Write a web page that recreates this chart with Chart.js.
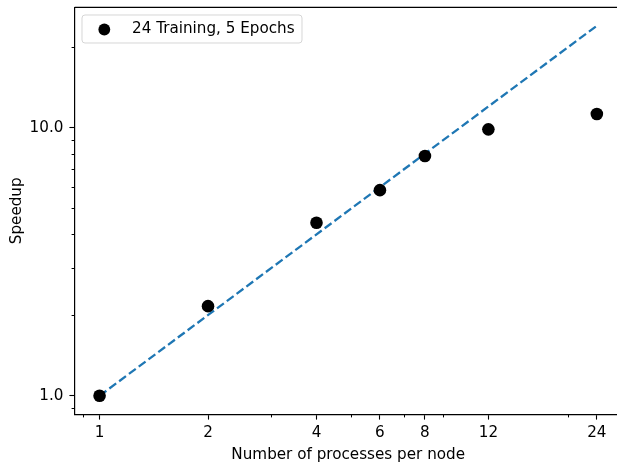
<!DOCTYPE html>
<html>
<head>
<meta charset="utf-8">
<script src="https://cdn.jsdelivr.net/npm/chart.js@4/dist/chart.umd.min.js"></script>
<style>
  html, body { margin: 0; padding: 0; background: #fff; overflow: hidden; }
  #wrap { width: 630px; height: 464px; }
</style>
</head>
<body>
<div id="wrap"><canvas id="c" width="630" height="464"></canvas></div>
<script>
// Measured speedup against number of processes per node
const procs   = [1, 2, 4, 6, 8, 12, 24];
const speedup = [1.0, 2.16, 4.42, 5.85, 7.84, 9.86, 11.25];
// Ideal (linear) speedup reference line
const idealX = [1, 24];
const idealY = [1, 24];
// Axis ticks
const xMajor = [1, 2, 4, 6, 8, 12, 24];
const xMinor = [0.9, 3, 5, 7, 9, 20];
const yMajor = [1, 10];
const yMinor = [0.9, 2, 3, 4, 5, 6, 7, 8, 9, 20];
const seriesLabel = '24 Training, 5 Epochs';

// Axis limits: data range in log space with a 5% margin each side
const lo = Math.log10(1), hi = Math.log10(24), m = 0.05 * (hi - lo);
const axMin = Math.pow(10, lo - m), axMax = Math.pow(10, hi + m);

const FONT = 'DejaVu Sans';
const FS = 15.2;
const MAJOR_LEN = 5.3;
const MINOR_LEN = 3.1;

// Fixed axis box sizes; no extra padding for overhanging labels
const fixAxis = (size) => (s) => {
  if (s.isHorizontal()) s.height = size; else s.width = size;
  s.paddingTop = s.paddingBottom = s.paddingLeft = s.paddingRight = 0;
};

const extras = {
  id: 'extras',
  afterDraw(chart) {
    const { ctx, chartArea: a, scales: { x, y } } = chart;
    ctx.save();
    ctx.strokeStyle = '#000';
    ctx.lineWidth = 1;
    ctx.beginPath();
    xMinor.forEach(v => {
      const px = Math.round(x.getPixelForValue(v)) + 0.5;
      if (px < a.left || px > a.right) return;
      ctx.moveTo(px, a.bottom); ctx.lineTo(px, a.bottom + MINOR_LEN);
    });
    yMinor.forEach(v => {
      const py = Math.round(y.getPixelForValue(v)) + 0.5;
      if (py < a.top || py > a.bottom) return;
      ctx.moveTo(a.left, py); ctx.lineTo(a.left - MINOR_LEN, py);
    });
    ctx.stroke();
    // top and right spines
    ctx.lineWidth = 1.2;
    ctx.beginPath();
    ctx.moveTo(a.left, a.top); ctx.lineTo(a.right, a.top); ctx.lineTo(a.right, a.bottom);
    ctx.stroke();

    // legend
    const lx = 82, ly = 15, lw = 220, lh = 28, r = 3;
    ctx.beginPath();
    ctx.moveTo(lx + r, ly);
    ctx.arcTo(lx + lw, ly, lx + lw, ly + lh, r);
    ctx.arcTo(lx + lw, ly + lh, lx, ly + lh, r);
    ctx.arcTo(lx, ly + lh, lx, ly, r);
    ctx.arcTo(lx, ly, lx + lw, ly, r);
    ctx.closePath();
    ctx.fillStyle = 'rgba(255,255,255,0.8)';
    ctx.fill();
    ctx.strokeStyle = 'rgba(204,204,204,0.8)';
    ctx.lineWidth = 1;
    ctx.stroke();
    ctx.fillStyle = '#000';
    ctx.beginPath();
    ctx.arc(104.3, 29.5, 5.9, 0, Math.PI * 2);
    ctx.fill();
    ctx.font = FS + 'px "' + FONT + '"';
    ctx.textBaseline = 'middle';
    ctx.textAlign = 'left';
    ctx.fillText(chart.data.datasets[0].label, 132, 29.5);
    ctx.restore();
  }
};

new Chart(document.getElementById('c'), {
  type: 'scatter',
  data: {
    datasets: [
      {
        label: seriesLabel,
        data: procs.map((p, i) => ({ x: p, y: speedup[i] })),
        backgroundColor: '#000',
        borderColor: '#000',
        borderWidth: 0,
        pointRadius: 6.3,
        pointHoverRadius: 6.3,
        order: 0
      },
      {
        label: 'Ideal',
        type: 'line',
        data: idealX.map((p, i) => ({ x: p, y: idealY[i] })),
        borderColor: '#1f77b4',
        borderWidth: 2.3,
        borderDash: [8.5, 3.7],
        pointRadius: 0,
        fill: false,
        order: 1
      }
    ]
  },
  options: {
    responsive: false,
    animation: false,
    devicePixelRatio: 1,
    layout: { autoPadding: false, padding: { left: 0, top: 7.3, right: 8.3, bottom: 0 } },
    plugins: { legend: { display: false }, tooltip: { enabled: false } },
    scales: {
      x: {
        type: 'logarithmic',
        min: axMin, max: axMax,
        afterBuildTicks: s => { s.ticks = xMajor.map(v => ({ value: v })); },
        afterFit: fixAxis(49.7),
        ticks: {
          autoSkip: false, maxRotation: 0, padding: 4.5,
          color: '#000', font: { family: FONT, size: FS },
          callback: v => String(v)
        },
        grid: { drawOnChartArea: false, drawTicks: true, tickLength: MAJOR_LEN, tickColor: '#000', tickWidth: 1.1 },
        border: { display: true, color: '#000', width: 1.2 },
        title: {
          display: true, text: 'Number of processes per node',
          color: '#000', font: { family: FONT, size: FS },
          padding: { top: 0, bottom: 0 }
        }
      },
      y: {
        type: 'logarithmic',
        min: axMin, max: axMax,
        afterBuildTicks: s => { s.ticks = yMajor.map(v => ({ value: v })); },
        afterFit: fixAxis(74.7),
        ticks: {
          autoSkip: false, padding: 6,
          color: '#000', font: { family: FONT, size: FS },
          callback: v => Number(v).toFixed(1)
        },
        grid: { drawOnChartArea: false, drawTicks: true, tickLength: MAJOR_LEN, tickColor: '#000', tickWidth: 1.1 },
        border: { display: true, color: '#000', width: 1.2 },
        title: {
          display: true, text: 'Speedup',
          color: '#000', font: { family: FONT, size: FS },
          padding: { top: 7.5, bottom: 0 }
        }
      }
    }
  },
  plugins: [extras]
});
</script>
</body>
</html>
